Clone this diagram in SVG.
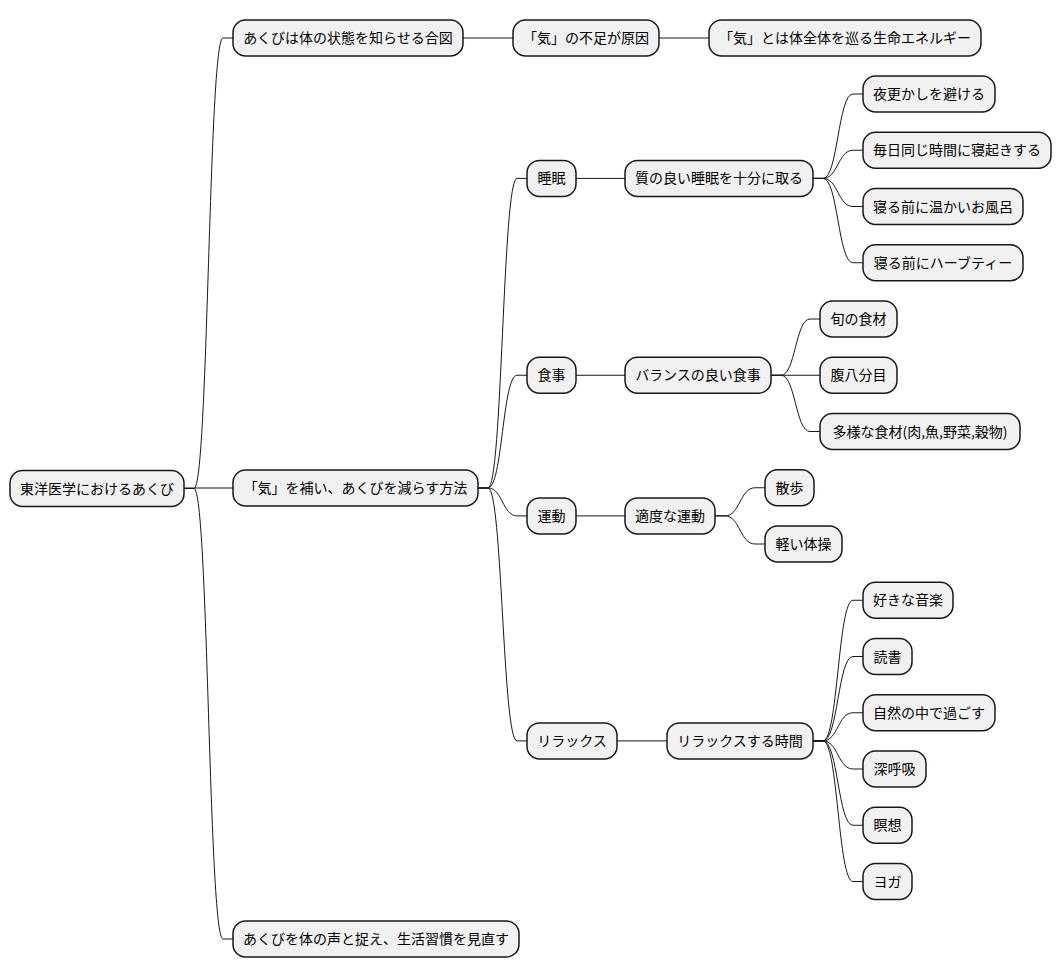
<svg xmlns="http://www.w3.org/2000/svg" width="1062" height="978" viewBox="0 0 1062 978">
<style>
.n rect{fill:#F1F1F1;stroke:#181818;stroke-width:1.5}
.n text{font-family:"Noto Sans CJK JP","DejaVu Sans",sans-serif;font-size:14px;fill:#000;text-anchor:middle}
.c path{fill:none;stroke:#181818;stroke-width:1}
</style>
<rect width="1062" height="978" fill="#FFFFFF"/>
<g class="c" id="connectors">
<path d="M184 488.5 L194 488.5 C208.5 488.5 208.5 38 223 38 L233 38"/>
<path d="M184 488 L233 488"/>
<path d="M184 488.5 L194 488.5 C208.5 488.5 208.5 939 223 939 L233 939"/>
<path d="M463 38 L513 38"/>
<path d="M659 38 L709 38"/>
<path d="M478 488 L488 488 C502.5 488 502.5 178.4 517 178.4 L527 178.4"/>
<path d="M478 488 L488 488 C502.5 488 502.5 375.25 517 375.25 L527 375.25"/>
<path d="M478 488 L488 488 C502.5 488 502.5 515.9 517 515.9 L527 515.9"/>
<path d="M478 488 L488 488 C502.5 488 502.5 740.9 517 740.9 L527 740.9"/>
<path d="M576 178.4 L625 178.4"/>
<path d="M576 375.25 L625 375.25"/>
<path d="M576 515.9 L625 515.9"/>
<path d="M617 740.9 L667 740.9"/>
<path d="M813 178.4 L823 178.4 C838 178.4 838 94 853 94 L863 94"/>
<path d="M813 178.4 L823 178.4 C838 178.4 838 150.25 853 150.25 L863 150.25"/>
<path d="M813 178.4 L823 178.4 C838 178.4 838 206.5 853 206.5 L863 206.5"/>
<path d="M813 178.4 L823 178.4 C838 178.4 838 262.75 853 262.75 L863 262.75"/>
<path d="M771 375.25 L781 375.25 C795.5 375.25 795.5 319 810 319 L820 319"/>
<path d="M771 375.25 L820 375.25"/>
<path d="M771 375.25 L781 375.25 C795.5 375.25 795.5 431.5 810 431.5 L820 431.5"/>
<path d="M715 515.9 L725 515.9 C740 515.9 740 487.75 755 487.75 L765 487.75"/>
<path d="M715 515.9 L725 515.9 C740 515.9 740 544 755 544 L765 544"/>
<path d="M813 740.9 L823 740.9 C838 740.9 838 600.25 853 600.25 L863 600.25"/>
<path d="M813 740.9 L823 740.9 C838 740.9 838 656.5 853 656.5 L863 656.5"/>
<path d="M813 740.9 L823 740.9 C838 740.9 838 712.75 853 712.75 L863 712.75"/>
<path d="M813 740.9 L823 740.9 C838 740.9 838 769 853 769 L863 769"/>
<path d="M813 740.9 L823 740.9 C838 740.9 838 825.25 853 825.25 L863 825.25"/>
<path d="M813 740.9 L823 740.9 C838 740.9 838 881.5 853 881.5 L863 881.5"/>
</g>
<g class="n" id="root"><rect x="10" y="470.5" width="174" height="36" rx="12.5"/><text x="97" y="493.5">東洋医学におけるあくび</text></g>
<g class="n" id="a"><rect x="233" y="20" width="230" height="36" rx="12.5"/><text x="348" y="43">あくびは体の状態を知らせる合図</text></g>
<g class="n" id="a1"><rect x="513" y="20" width="146" height="36" rx="12.5"/><text x="586" y="43">「気」の不足が原因</text></g>
<g class="n" id="a2"><rect x="709" y="20" width="272" height="36" rx="12.5"/><text x="845" y="43">「気」とは体全体を巡る生命エネルギー</text></g>
<g class="n" id="b"><rect x="233" y="470" width="245" height="36" rx="12.5"/><text x="355.5" y="493">「気」を補い、あくびを減らす方法</text></g>
<g class="n" id="c"><rect x="233" y="921" width="286" height="36" rx="12.5"/><text x="376" y="944">あくびを体の声と捉え、生活習慣を見直す</text></g>
<g class="n" id="sleep"><rect x="527" y="160.4" width="49" height="36" rx="12.5"/><text x="551.5" y="183.4">睡眠</text></g>
<g class="n" id="sleep1"><rect x="625" y="160.4" width="188" height="36" rx="12.5"/><text x="719" y="183.4">質の良い睡眠を十分に取る</text></g>
<g class="n" id="s1"><rect x="863" y="76" width="132" height="36" rx="12.5"/><text x="929" y="99">夜更かしを避ける</text></g>
<g class="n" id="s2"><rect x="863" y="132.25" width="188" height="36" rx="12.5"/><text x="957" y="155.25">毎日同じ時間に寝起きする</text></g>
<g class="n" id="s3"><rect x="863" y="188.5" width="160" height="36" rx="12.5"/><text x="943" y="211.5">寝る前に温かいお風呂</text></g>
<g class="n" id="s4"><rect x="863" y="244.75" width="160" height="36" rx="12.5"/><text x="943" y="267.75">寝る前にハーブティー</text></g>
<g class="n" id="food"><rect x="527" y="357.25" width="49" height="36" rx="12.5"/><text x="551.5" y="380.25">食事</text></g>
<g class="n" id="food1"><rect x="625" y="357.25" width="146" height="36" rx="12.5"/><text x="698" y="380.25">バランスの良い食事</text></g>
<g class="n" id="f1"><rect x="820" y="301" width="77" height="36" rx="12.5"/><text x="858.5" y="324">旬の食材</text></g>
<g class="n" id="f2"><rect x="820" y="357.25" width="77" height="36" rx="12.5"/><text x="858.5" y="380.25">腹八分目</text></g>
<g class="n" id="f3"><rect x="820" y="413.5" width="200" height="36" rx="12.5"/><text x="920" y="436.5">多様な食材(肉,魚,野菜,穀物)</text></g>
<g class="n" id="ex"><rect x="527" y="497.9" width="49" height="36" rx="12.5"/><text x="551.5" y="520.9">運動</text></g>
<g class="n" id="ex1"><rect x="625" y="497.9" width="90" height="36" rx="12.5"/><text x="670" y="520.9">適度な運動</text></g>
<g class="n" id="e1"><rect x="765" y="469.75" width="49" height="36" rx="12.5"/><text x="789.5" y="492.75">散歩</text></g>
<g class="n" id="e2"><rect x="765" y="526" width="77" height="36" rx="12.5"/><text x="803.5" y="549">軽い体操</text></g>
<g class="n" id="relax"><rect x="527" y="722.9" width="90" height="36" rx="12.5"/><text x="572" y="745.9">リラックス</text></g>
<g class="n" id="relax1"><rect x="667" y="722.9" width="146" height="36" rx="12.5"/><text x="740" y="745.9">リラックスする時間</text></g>
<g class="n" id="r1"><rect x="863" y="582.25" width="90" height="36" rx="12.5"/><text x="908" y="605.25">好きな音楽</text></g>
<g class="n" id="r2"><rect x="863" y="638.5" width="49" height="36" rx="12.5"/><text x="887.5" y="661.5">読書</text></g>
<g class="n" id="r3"><rect x="863" y="694.75" width="132" height="36" rx="12.5"/><text x="929" y="717.75">自然の中で過ごす</text></g>
<g class="n" id="r4"><rect x="863" y="751" width="63" height="36" rx="12.5"/><text x="894.5" y="774">深呼吸</text></g>
<g class="n" id="r5"><rect x="863" y="807.25" width="49" height="36" rx="12.5"/><text x="887.5" y="830.25">瞑想</text></g>
<g class="n" id="r6"><rect x="863" y="863.5" width="49" height="36" rx="12.5"/><text x="887.5" y="886.5">ヨガ</text></g>
</svg>
